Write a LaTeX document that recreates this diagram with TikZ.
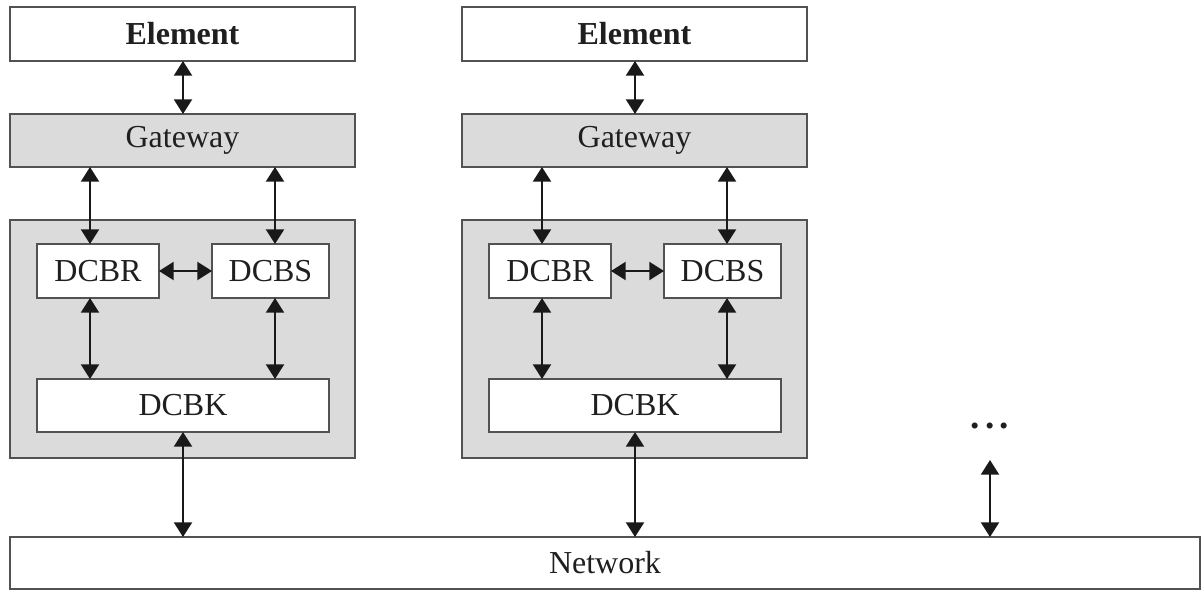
\documentclass[tikz,border=0pt]{standalone}
\usepackage{fontspec}
\setmainfont{Liberation Serif}
\usetikzlibrary{arrows.meta}
\newcommand\pu{0.75pt}
\tikzset{
  frame/.style={draw=black!68, line width=1.6pt, inner sep=0pt, outer sep=0pt,
    text=black!88, font=\fontsize{24}{28}\selectfont},
  whitebox/.style={frame, fill=white},
  graybox/.style={frame, fill=black!14},
  link/.style={line width=1.6pt, draw=black!90,
    {Triangle[width=13.5pt,length=11pt]}-{Triangle[width=13.5pt,length=11pt]}}
}
\begin{document}
\begin{tikzpicture}[x=\pu, y=-\pu]
\useasboundingbox (0,0) rectangle (1201,589);

% shared network bar
\node[whitebox, minimum width=1190*\pu, minimum height=52*\pu] (net) at (605,563) {Network};

% two identical stacks: element, gateway, and the DCB group
\foreach \c/\dx in {1/0, 2/452} {
  \node[whitebox, minimum width=345*\pu, minimum height=54*\pu] (el\c) at (182.5+\dx,34) {\bfseries Element};
  \node[graybox, minimum width=345*\pu, minimum height=53*\pu] (gw\c) at (182.5+\dx,140.5) {Gateway};
  \node[graybox, minimum width=345*\pu, minimum height=238*\pu] (grp\c) at (182.5+\dx,339) {};
  \node[whitebox, minimum width=122*\pu, minimum height=54*\pu] (dcbr\c) at (98+\dx,271) {DCBR};
  \node[whitebox, minimum width=117*\pu, minimum height=54*\pu] (dcbs\c) at (270.5+\dx,271) {DCBS};
  \node[whitebox, minimum width=292*\pu, minimum height=53*\pu] (dcbk\c) at (183+\dx,405.5) {DCBK};

  \coordinate (mid\c) at (183+\dx,0);
  \coordinate (lft\c) at (90+\dx,0);
  \coordinate (rgt\c) at (275+\dx,0);

  \draw[link] (el\c.south -| mid\c) -- (gw\c.north -| mid\c);
  \draw[link] (gw\c.south -| lft\c) -- (dcbr\c.north -| lft\c);
  \draw[link] (gw\c.south -| rgt\c) -- (dcbs\c.north -| rgt\c);
  \draw[link] (dcbr\c.east) -- (dcbs\c.west);
  \draw[link] (dcbr\c.south -| lft\c) -- (dcbk\c.north -| lft\c);
  \draw[link] (dcbs\c.south -| rgt\c) -- (dcbk\c.north -| rgt\c);
  \draw[link] (dcbk\c.south -| mid\c) -- (net.north -| mid\c);
}

% further stacks, elided
\node[text=black!88, font=\fontsize{28}{32}\selectfont\bfseries] (more) at (990,426) {.\kern3.8pt.\kern3.8pt.};
\coordinate (moreend) at (990,460);
\draw[link] (moreend) -- (net.north -| moreend);
\end{tikzpicture}
\end{document}
